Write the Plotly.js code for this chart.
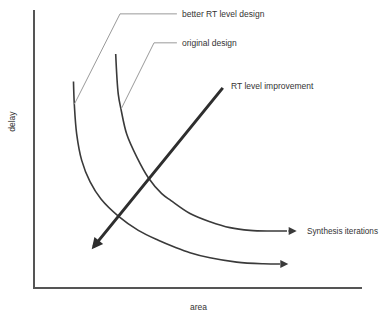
<!DOCTYPE html>
<html>
<head>
<meta charset="utf-8">
<script src="https://cdn.plot.ly/plotly-3.0.1.min.js"></script>
<style>
  html, body { margin: 0; padding: 0; background: #ffffff; }
  #chart { width: 381px; height: 314px; }
</style>
</head>
<body>
<div id="chart"></div>
<script>
// ---- Data (area / delay units, 0..10) ----
// "better RT level design" trade-off curve
const betterArea  = [1.177, 1.202, 1.275, 1.428, 1.682, 2.018, 2.547, 3.159, 3.771, 4.281, 4.740, 5.352, 6.168, 6.982, 7.492];
const betterDelay = [7.410, 6.583, 5.504, 4.550, 3.777, 3.147, 2.529, 2.014, 1.655, 1.403, 1.205, 1.018, 0.863, 0.802, 0.791];
const betterTip   = [7.746, 0.791];

// "original design" trade-off curve
const origArea  = [2.468, 2.547, 2.630, 2.804, 3.110, 3.465, 3.875, 4.159, 4.740, 5.352, 5.963, 6.575, 7.187, 7.706];
const origDelay = [8.406, 6.942, 6.403, 5.504, 4.676, 3.921, 3.345, 3.094, 2.626, 2.327, 2.112, 2.014, 1.989, 1.989];
const origTip   = [8.003, 1.989];

// RT level improvement arrow (tail -> tip)
const rtTail = [5.78, 7.23];
const rtTip  = [1.734, 1.331];

// Leader lines for curve labels
const betterLeaderArea  = [1.202, 2.60, 4.34];
const betterLeaderDelay = [6.583, 9.86, 9.86];
const origLeaderArea    = [2.630, 3.64, 4.34];
const origLeaderDelay   = [6.403, 8.81, 8.81];

// Labels
const labels = {
  better: "better RT level design",
  original: "original design",
  rt: "RT level improvement",
  synth: "Synthesis iterations",
  xTitle: "area",
  yTitle: "delay"
};
const labelPos = {
  better: [4.43, 9.86],
  original: [4.43, 8.81],
  rt: [5.93, 7.23],
  synth: [1.055, 1.98]   // x in paper units (right edge), y in delay units
};

const curveColor = "#3a3a3a";
const leaderColor = "#9a9a9a";
const textFont = { family: "Liberation Sans, Arial, sans-serif", size: 8.5, color: "#333333" };

const traces = [
  { x: betterArea, y: betterDelay, mode: "lines", line: { color: curveColor, width: 1.6, shape: "spline", smoothing: 1 }, hoverinfo: "skip" },
  { x: origArea, y: origDelay, mode: "lines", line: { color: curveColor, width: 1.6, shape: "spline", smoothing: 1 }, hoverinfo: "skip" },
  { x: betterLeaderArea, y: betterLeaderDelay, mode: "lines", line: { color: leaderColor, width: 1 }, hoverinfo: "skip" },
  { x: origLeaderArea, y: origLeaderDelay, mode: "lines", line: { color: leaderColor, width: 1 }, hoverinfo: "skip" }
];

function arrow(tip, tail, width, size, color) {
  return {
    x: tip[0], y: tip[1], ax: tail[0], ay: tail[1],
    xref: "x", yref: "y", axref: "x", ayref: "y",
    text: "", showarrow: true, arrowhead: 2, arrowsize: size, arrowwidth: width,
    arrowcolor: color, standoff: 0, startstandoff: 0
  };
}

function label(text, pos, extra) {
  return Object.assign({
    x: pos[0], y: pos[1], xref: "x", yref: "y", text: text, showarrow: false,
    xanchor: "left", yanchor: "middle", font: textFont
  }, extra || {});
}

const annotations = [
  arrow(betterTip, [betterArea[betterArea.length - 1], betterDelay[betterDelay.length - 1]], 1.6, 1, curveColor),
  arrow(origTip, [origArea[origArea.length - 1], origDelay[origDelay.length - 1]], 1.6, 1, curveColor),
  arrow(rtTip, rtTail, 3, 0.75, "#2e2e2e"),
  label(labels.better, labelPos.better),
  label(labels.original, labelPos.original),
  label(labels.rt, labelPos.rt),
  label(labels.synth, labelPos.synth, {
    xref: "paper", xanchor: "right",
    font: { family: textFont.family, size: 8.2, color: textFont.color }
  }),
  { x: 0.5, y: -0.072, xref: "paper", yref: "paper", text: labels.xTitle, showarrow: false,
    xanchor: "center", yanchor: "middle", font: textFont },
  { x: -0.07, y: 0.597, xref: "paper", yref: "paper", text: labels.yTitle, showarrow: false,
    textangle: -90, xanchor: "center", yanchor: "middle", font: textFont }
];

const axisCommon = {
  showgrid: false, zeroline: false, showticklabels: false, ticks: "",
  showline: true, linecolor: "#555555", linewidth: 2, fixedrange: true
};

const layout = {
  width: 381, height: 314,
  margin: { l: 35, r: 19, t: 10, b: 27 },
  paper_bgcolor: "#ffffff", plot_bgcolor: "#ffffff",
  showlegend: false,
  xaxis: Object.assign({ range: [0, 10] }, axisCommon),
  yaxis: Object.assign({ range: [-0.04, 10] }, axisCommon),
  annotations: annotations
};

Plotly.newPlot("chart", traces, layout, { displayModeBar: false, staticPlot: true });
</script>
</body>
</html>
